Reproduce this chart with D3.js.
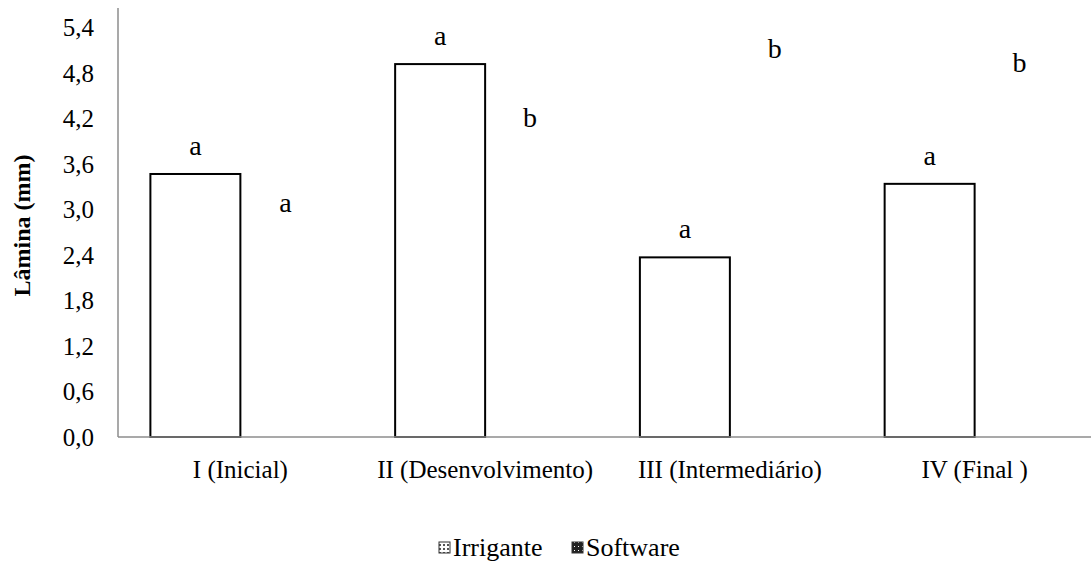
<!DOCTYPE html>
<html>
<head>
<meta charset="utf-8">
<script src="https://cdn.jsdelivr.net/npm/d3@7"></script>
<style>
  body { margin: 0; background: #fff; }
  svg text { font-family: "Liberation Serif", "Times New Roman", "DejaVu Serif", serif; fill: #000; }
</style>
</head>
<body>
<div id="chart"></div>
<script>
// chart values
const categories = ['I (Inicial)', 'II (Desenvolvimento)', 'III (Intermediário)', 'IV (Final )'];
const seriesNames = ['Irrigante', 'Software'];
const irriganteValues = [3.47, 4.92, 2.37, 3.34];
const softwareValues = [2.72, 3.84, 4.75, 4.56];
const irriganteLetters = ['a', 'a', 'a', 'a'];
const softwareLetters = ['a', 'b', 'b', 'b'];
const yTickValues = [0, 0.6, 1.2, 1.8, 2.4, 3.0, 3.6, 4.2, 4.8, 5.4];
const yTickLabels = ['0,0', '0,6', '1,2', '1,8', '2,4', '3,0', '3,6', '4,2', '4,8', '5,4'];

const width = 1091, height = 562;
const plot = { left: 118, right: 1097, top: 8, bottom: 437 };
const fontSize = 25;

const data = categories.map((c, i) => ({
    category: c,
    values: [
        { series: 'Irrigante', value: irriganteValues[i], letter: irriganteLetters[i] },
        { series: 'Software', value: softwareValues[i], letter: softwareLetters[i] }
    ]
}));

const svg = d3.select('#chart')
    .append('svg')
    .attr('width', width)
    .attr('height', height);

// legend patterns
const defs = svg.append('defs');
const pIrr = defs.append('pattern')
    .attr('id', 'pat-irr')
    .attr('width', 4).attr('height', 4)
    .attr('patternUnits', 'userSpaceOnUse');
pIrr.append('rect').attr('width', 4).attr('height', 4).attr('fill', '#fff');
pIrr.append('rect').attr('width', 2).attr('height', 2).attr('fill', '#555');
const pSoft = defs.append('pattern')
    .attr('id', 'pat-soft')
    .attr('width', 4).attr('height', 4)
    .attr('patternUnits', 'userSpaceOnUse');
pSoft.append('rect').attr('width', 4).attr('height', 4).attr('fill', '#222');
pSoft.append('rect').attr('x', 2).attr('y', 2).attr('width', 1).attr('height', 1).attr('fill', '#fff');

const x0 = d3.scaleBand()
    .domain(categories)
    .range([plot.left, plot.right])
    .padding(0);

const x1 = d3.scaleBand()
    .domain(seriesNames)
    .range([0, x0.bandwidth()])
    .paddingInner(0)
    .paddingOuter(0.36);

const y = d3.scaleLinear()
    .domain([0, 5.66])
    .range([plot.bottom, plot.top]);

// y axis (labels only, Excel style)
const yAxis = d3.axisLeft(y)
    .tickValues(yTickValues)
    .tickFormat((d, i) => yTickLabels[i])
    .tickSize(0)
    .tickPadding(24);

svg.append('g')
    .attr('class', 'y-axis')
    .attr('transform', `translate(${plot.left},0)`)
    .call(yAxis)
    .call(g => g.select('.domain').remove())
    .call(g => g.selectAll('text').style('font-size', fontSize + 'px'));

// bars
const groups = svg.selectAll('.group')
    .data(data)
    .join('g')
    .attr('class', 'group')
    .attr('transform', d => `translate(${x0(d.category)},0)`);

// Software bars have no fill and no border in the original, only their letters show
groups.selectAll('rect')
    .data(d => d.values)
    .join('rect')
    .attr('x', d => x1(d.series))
    .attr('y', d => y(d.value))
    .attr('width', x1.bandwidth())
    .attr('height', d => y(0) - y(d.value))
    .attr('fill', d => d.series === 'Irrigante' ? '#fff' : 'none')
    .attr('stroke', d => d.series === 'Irrigante' ? '#000' : 'none')
    .attr('stroke-width', 2);

// significance letters
groups.selectAll('.letter')
    .data(d => d.values)
    .join('text')
    .attr('class', 'letter')
    .attr('x', d => x1(d.series) + x1.bandwidth() / 2)
    .attr('y', d => y(d.value) - 19)
    .attr('text-anchor', 'middle')
    .style('font-size', '28px')
    .text(d => d.letter);

// axis lines
svg.append('line')
    .attr('x1', plot.left).attr('x2', plot.left)
    .attr('y1', plot.top).attr('y2', plot.bottom)
    .attr('stroke', '#8c8c8c')
    .attr('stroke-width', 1.5);
svg.append('line')
    .attr('x1', plot.left).attr('x2', plot.right)
    .attr('y1', plot.bottom).attr('y2', plot.bottom)
    .attr('stroke', '#8c8c8c')
    .attr('stroke-width', 1.5);

// category labels
const xAxis = d3.axisBottom(x0).tickSize(0).tickPadding(23);
svg.append('g')
    .attr('class', 'x-axis')
    .attr('transform', `translate(0,${plot.bottom})`)
    .call(xAxis)
    .call(g => g.select('.domain').remove())
    .call(g => g.selectAll('text').style('font-size', fontSize + 'px'));

// y axis title
svg.append('text')
    .attr('transform', `translate(30,${(plot.top + plot.bottom) / 2 + 3}) rotate(-90)`)
    .attr('text-anchor', 'middle')
    .style('font-size', '24px')
    .style('font-weight', 'bold')
    .text('Lâmina (mm)');

// legend
const legendItems = [
    { name: seriesNames[0], fill: 'url(#pat-irr)', x: 439 },
    { name: seriesNames[1], fill: 'url(#pat-soft)', x: 572 }
];
const legend = svg.selectAll('.legend')
    .data(legendItems)
    .join('g')
    .attr('class', 'legend')
    .attr('transform', d => `translate(${d.x},556)`);
legend.append('rect')
    .attr('x', 0).attr('y', -14)
    .attr('width', 11).attr('height', 11)
    .attr('fill', d => d.fill)
    .attr('stroke', '#333')
    .attr('stroke-width', 1);
legend.append('text')
    .attr('x', 14)
    .attr('y', 0)
    .style('font-size', '26px')
    .text(d => d.name);
</script>
</body>
</html>
